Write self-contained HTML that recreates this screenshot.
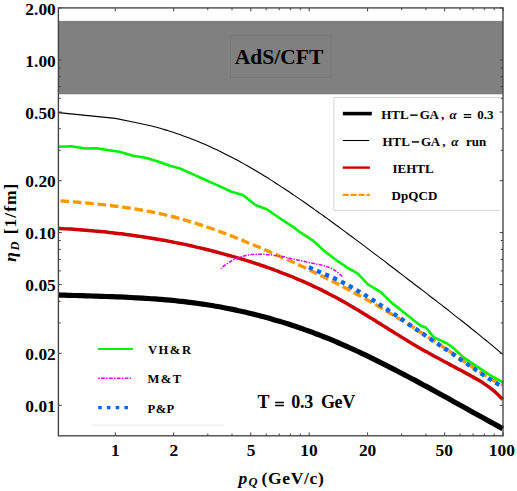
<!DOCTYPE html>
<html><head><meta charset="utf-8"><title>plot</title>
<style>
html,body{margin:0;padding:0;background:#fff;}
body{width:517px;height:491px;overflow:hidden;font-family:"Liberation Serif",serif;}
svg{display:block;}
svg text{font-family:"Liberation Serif",serif;font-weight:bold;fill:#000;}
</style></head><body>
<svg width="517" height="491" viewBox="0 0 517 491">
<rect x="0" y="0" width="517" height="491" fill="#fff"/>
<rect x="58.4" y="20.9" width="444.6" height="73.4" fill="#808080"/>
<rect x="230.5" y="35.7" width="100.6" height="41.8" fill="#808080" stroke="#767676" stroke-width="0.7"/>
<text x="234.8" y="63.8" font-size="21.5" textLength="88.5" lengthAdjust="spacing">AdS/CFT</text>
<g fill="none" stroke-linejoin="round">
<path d="M58.5,294.9 C59.5,295.0 62.5,295.1 64.5,295.1 C66.5,295.2 68.5,295.3 70.5,295.3 C72.5,295.4 74.5,295.5 76.5,295.5 C78.5,295.6 80.5,295.7 82.5,295.7 C84.5,295.8 86.5,295.8 88.5,295.9 C90.5,296.0 92.5,296.0 94.5,296.1 C96.5,296.2 98.5,296.2 100.5,296.3 C102.5,296.4 104.5,296.4 106.5,296.5 C108.5,296.6 110.5,296.6 112.5,296.7 C114.5,296.8 116.5,296.9 118.5,296.9 C120.5,297.0 122.5,297.1 124.5,297.2 C126.5,297.3 128.5,297.4 130.5,297.5 C132.6,297.6 134.6,297.7 136.6,297.8 C138.6,297.9 140.6,298.0 142.6,298.1 C144.6,298.3 146.6,298.4 148.6,298.5 C150.6,298.7 152.6,298.8 154.6,298.9 C156.6,299.1 158.6,299.2 160.6,299.4 C162.6,299.6 164.6,299.7 166.6,299.9 C168.6,300.1 170.6,300.3 172.6,300.4 C174.6,300.6 176.6,300.8 178.6,301.1 C180.6,301.3 182.6,301.5 184.6,301.7 C186.6,301.9 188.6,302.2 190.6,302.4 C192.6,302.7 194.6,302.9 196.6,303.2 C198.6,303.5 200.6,303.8 202.6,304.1 C204.6,304.4 206.6,304.7 208.6,305.0 C210.6,305.3 212.6,305.6 214.6,306.0 C216.6,306.3 218.6,306.7 220.6,307.0 C222.6,307.4 224.6,307.8 226.6,308.2 C228.6,308.6 230.6,309.0 232.6,309.4 C234.6,309.8 236.6,310.2 238.6,310.7 C240.6,311.1 242.6,311.5 244.6,312.0 C246.6,312.5 248.6,312.9 250.6,313.4 C252.6,313.9 254.6,314.4 256.6,314.9 C258.6,315.4 260.6,316.0 262.6,316.5 C264.6,317.0 266.6,317.6 268.6,318.1 C270.6,318.7 272.6,319.3 274.6,319.9 C276.6,320.4 278.6,321.0 280.6,321.6 C282.7,322.3 284.7,322.9 286.7,323.5 C288.7,324.1 290.7,324.8 292.7,325.5 C294.7,326.1 296.7,326.8 298.7,327.5 C300.7,328.2 302.7,328.9 304.7,329.6 C306.7,330.3 308.7,331.0 310.7,331.7 C312.7,332.5 314.7,333.2 316.7,334.0 C318.7,334.8 320.7,335.5 322.7,336.3 C324.7,337.1 326.7,337.9 328.7,338.7 C330.7,339.6 332.7,340.4 334.7,341.2 C336.7,342.1 338.7,342.9 340.7,343.8 C342.7,344.7 344.7,345.5 346.7,346.4 C348.7,347.3 350.7,348.2 352.7,349.1 C354.7,350.0 356.7,351.0 358.7,351.9 C360.7,352.8 362.7,353.8 364.7,354.7 C366.7,355.7 368.7,356.7 370.7,357.6 C372.7,358.6 374.7,359.6 376.7,360.6 C378.7,361.6 380.7,362.6 382.7,363.6 C384.7,364.6 386.7,365.6 388.7,366.6 C390.7,367.6 392.7,368.7 394.7,369.7 C396.7,370.7 398.7,371.8 400.7,372.8 C402.7,373.9 404.7,374.9 406.7,376.0 C408.7,377.0 410.7,378.1 412.7,379.2 C414.7,380.2 416.7,381.3 418.7,382.4 C420.7,383.5 422.7,384.6 424.7,385.7 C426.7,386.7 428.8,387.8 430.8,388.9 C432.8,390.0 434.8,391.1 436.8,392.2 C438.8,393.3 440.8,394.4 442.8,395.5 C444.8,396.6 446.8,397.7 448.8,398.8 C450.8,400.0 452.8,401.1 454.8,402.2 C456.8,403.3 458.8,404.4 460.8,405.5 C462.8,406.6 464.8,407.7 466.8,408.8 C468.8,410.0 470.8,411.1 472.8,412.2 C474.8,413.3 476.8,414.4 478.8,415.5 C480.8,416.6 482.8,417.7 484.8,418.8 C486.8,419.9 488.8,421.0 490.8,422.1 C492.8,423.2 494.8,424.3 496.8,425.4 C498.8,426.5 501.8,428.1 502.8,428.7" stroke="#000" stroke-width="5.2"/>
<path d="M58.5,112.6 L115.3,118.4 L133,122.0 L150.5,125.8 C151.5,126.0 154.5,126.8 156.5,127.3 C158.5,127.9 160.5,128.4 162.4,129.0 C164.4,129.6 166.4,130.2 168.4,130.8 C170.4,131.4 172.4,132.1 174.4,132.7 C176.4,133.4 178.4,134.1 180.4,134.8 C182.3,135.5 184.3,136.2 186.3,136.9 C188.3,137.7 190.3,138.4 192.3,139.2 C194.3,140.0 196.3,140.8 198.3,141.6 C200.3,142.4 202.3,143.3 204.2,144.1 C206.2,145.0 208.2,145.9 210.2,146.8 C212.2,147.7 214.2,148.6 216.2,149.5 C218.2,150.5 220.2,151.4 222.2,152.4 C224.1,153.4 226.1,154.4 228.1,155.4 C230.1,156.4 232.1,157.4 234.1,158.5 C236.1,159.6 238.1,160.6 240.1,161.7 C242.1,162.8 244.0,163.9 246.0,165.1 C248.0,166.2 250.0,167.3 252.0,168.5 C254.0,169.7 256.0,170.8 258.0,172.0 C260.0,173.2 262.0,174.4 264.0,175.7 C265.9,176.9 267.9,178.1 269.9,179.4 C271.9,180.6 273.9,181.9 275.9,183.2 C277.9,184.5 279.9,185.8 281.9,187.1 C283.9,188.4 285.8,189.7 287.8,191.0 C289.8,192.4 291.8,193.7 293.8,195.1 C295.8,196.4 297.8,197.8 299.8,199.1 C301.8,200.5 303.8,201.9 305.8,203.3 C307.7,204.7 309.7,206.1 311.7,207.5 C313.7,208.9 315.7,210.3 317.7,211.7 C319.7,213.1 321.7,214.6 323.7,216.0 C325.7,217.4 327.6,218.9 329.6,220.3 C331.6,221.8 333.6,223.2 335.6,224.7 C337.6,226.1 339.6,227.6 341.6,229.1 C343.6,230.5 345.6,232.0 347.5,233.5 C349.5,235.0 351.5,236.4 353.5,237.9 C355.5,239.4 357.5,240.9 359.5,242.4 C361.5,243.9 363.5,245.4 365.5,246.9 C367.5,248.4 369.4,249.9 371.4,251.4 C373.4,252.9 375.4,254.4 377.4,255.9 C379.4,257.4 381.4,258.9 383.4,260.4 C385.4,261.9 387.4,263.5 389.3,265.0 C391.3,266.5 393.3,268.0 395.3,269.5 C397.3,271.1 399.3,272.6 401.3,274.1 C403.3,275.6 405.3,277.1 407.3,278.7 C409.3,280.2 411.2,281.7 413.2,283.2 C415.2,284.8 417.2,286.3 419.2,287.8 C421.2,289.3 423.2,290.9 425.2,292.4 C427.2,293.9 429.2,295.5 431.1,297.0 C433.1,298.5 435.1,300.1 437.1,301.6 C439.1,303.1 441.1,304.7 443.1,306.2 C445.1,307.8 447.1,309.3 449.1,310.9 C451.0,312.4 453.0,314.0 455.0,315.6 C457.0,317.1 459.0,318.7 461.0,320.3 C463.0,321.8 465.0,323.4 467.0,325.0 C469.0,326.6 471.0,328.2 472.9,329.8 C474.9,331.4 476.9,333.0 478.9,334.6 C480.9,336.2 482.9,337.9 484.9,339.5 C486.9,341.1 488.9,342.8 490.9,344.4 C492.8,346.1 494.8,347.7 496.8,349.4 C498.8,351.1 501.8,353.6 502.8,354.4" stroke="#000" stroke-width="1.1"/>
<path d="M58.5,228.4 C59.5,228.5 62.5,228.6 64.5,228.8 C66.5,228.9 68.5,229.0 70.5,229.1 C72.5,229.2 74.5,229.4 76.5,229.5 C78.5,229.6 80.5,229.8 82.5,229.9 C84.5,230.1 86.5,230.3 88.5,230.4 C90.5,230.6 92.5,230.8 94.5,231.0 C96.5,231.1 98.5,231.3 100.5,231.5 C102.5,231.7 104.5,231.9 106.5,232.1 C108.5,232.3 110.5,232.6 112.5,232.8 C114.5,233.0 116.5,233.3 118.5,233.5 C120.5,233.7 122.5,234.0 124.5,234.2 C126.5,234.5 128.5,234.8 130.5,235.0 C132.6,235.3 134.6,235.6 136.6,235.9 C138.6,236.2 140.6,236.5 142.6,236.8 C144.6,237.1 146.6,237.4 148.6,237.7 C150.6,238.0 152.6,238.4 154.6,238.7 C156.6,239.1 158.6,239.4 160.6,239.8 C162.6,240.1 164.6,240.5 166.6,240.8 C168.6,241.2 170.6,241.6 172.6,242.0 C174.6,242.4 176.6,242.8 178.6,243.2 C180.6,243.6 182.6,244.0 184.6,244.4 C186.6,244.9 188.6,245.3 190.6,245.7 C192.6,246.2 194.6,246.6 196.6,247.1 C198.6,247.5 200.6,248.0 202.6,248.5 C204.6,249.0 206.6,249.5 208.6,250.0 C210.6,250.5 212.6,251.0 214.6,251.5 C216.6,252.0 218.6,252.5 220.6,253.1 C222.6,253.6 224.6,254.1 226.6,254.7 C228.6,255.2 230.6,255.8 232.6,256.4 C234.6,256.9 236.6,257.5 238.6,258.1 C240.6,258.7 242.6,259.3 244.6,259.9 C246.6,260.5 248.6,261.2 250.6,261.8 C252.6,262.4 254.6,263.1 256.6,263.8 C258.6,264.4 260.6,265.1 262.6,265.8 C264.6,266.4 266.6,267.1 268.6,267.9 C270.6,268.6 272.6,269.3 274.6,270.0 C276.6,270.8 278.6,271.5 280.6,272.3 C282.7,273.0 284.7,273.8 286.7,274.6 C288.7,275.4 290.7,276.2 292.7,277.0 C294.7,277.9 296.7,278.7 298.7,279.6 C300.7,280.4 302.7,281.3 304.7,282.2 C306.7,283.1 308.7,284.0 310.7,284.9 C312.7,285.8 314.7,286.8 316.7,287.7 C318.7,288.7 320.7,289.6 322.7,290.6 C324.7,291.6 326.7,292.7 328.7,293.7 C330.7,294.7 332.7,295.8 334.7,296.8 C336.7,297.9 338.7,299.0 340.7,300.1 C342.7,301.2 344.7,302.4 346.7,303.5 C348.7,304.6 350.7,305.8 352.7,307.0 C354.7,308.2 356.7,309.4 358.7,310.6 C360.7,311.8 362.7,313.0 364.7,314.2 C366.7,315.5 368.7,316.7 370.7,317.9 C372.7,319.2 374.7,320.4 376.7,321.7 C378.7,322.9 380.7,324.2 382.7,325.4 C384.7,326.7 386.7,327.9 388.7,329.2 C390.7,330.4 392.7,331.7 394.7,332.9 C396.7,334.2 398.7,335.4 400.7,336.6 C402.7,337.9 404.7,339.1 406.7,340.3 C408.7,341.5 410.7,342.7 412.7,343.9 C414.7,345.1 416.7,346.3 418.7,347.4 C420.7,348.6 422.7,349.7 424.7,350.9 C426.7,352.0 428.8,353.1 430.8,354.2 C432.8,355.3 434.8,356.4 436.8,357.5 C438.8,358.5 440.8,359.6 442.8,360.7 C444.8,361.8 446.8,362.8 448.8,363.9 C450.8,365.0 452.8,366.0 454.8,367.1 C456.8,368.2 458.8,369.2 460.8,370.3 C462.8,371.4 464.8,372.5 466.8,373.6 C468.8,374.7 470.8,375.8 472.8,376.9 C474.8,378.0 476.8,379.1 478.8,380.3 C480.8,381.5 482.8,382.7 484.8,384.1 C486.8,385.4 488.8,386.9 490.8,388.4 C492.8,390.0 494.8,391.7 496.8,393.5 C498.8,395.4 501.8,398.6 502.8,399.6" stroke="#cc0000" stroke-width="3.5"/>
<path d="M60.5,200.9 C61.5,201.0 64.5,201.2 66.5,201.4 C68.5,201.5 70.5,201.7 72.5,201.8 C74.4,202.0 76.4,202.2 78.4,202.3 C80.4,202.5 82.4,202.7 84.4,202.8 C86.4,203.0 88.4,203.2 90.4,203.4 C92.4,203.6 94.4,203.8 96.4,204.0 C98.3,204.2 100.3,204.4 102.3,204.6 C104.3,204.8 106.3,205.0 108.3,205.3 C110.3,205.5 112.3,205.7 114.3,206.0 C116.3,206.2 118.3,206.5 120.3,206.7 C122.2,207.0 124.2,207.3 126.2,207.6 C128.2,207.9 130.2,208.2 132.2,208.5 C134.2,208.8 136.2,209.1 138.2,209.5 C140.2,209.8 142.2,210.1 144.2,210.5 C146.2,210.9 148.1,211.2 150.1,211.6 C152.1,212.0 154.1,212.4 156.1,212.8 C158.1,213.2 160.1,213.7 162.1,214.1 C164.1,214.6 166.1,215.0 168.1,215.5 C170.1,216.0 172.0,216.5 174.0,217.0 C176.0,217.5 178.0,218.0 180.0,218.6 C182.0,219.1 184.0,219.7 186.0,220.3 C188.0,220.9 190.0,221.5 192.0,222.1 C194.0,222.7 195.9,223.3 197.9,224.0 C199.9,224.6 201.9,225.3 203.9,225.9 C205.9,226.6 207.9,227.3 209.9,228.0 C211.9,228.7 213.9,229.4 215.9,230.1 C217.9,230.9 219.9,231.6 221.8,232.3 C223.8,233.1 225.8,233.8 227.8,234.6 C229.8,235.4 231.8,236.2 233.8,236.9 C235.8,237.7 237.8,238.5 239.8,239.3 C241.8,240.1 243.8,240.9 245.7,241.7 C247.7,242.6 249.7,243.4 251.7,244.2 C253.7,245.0 255.7,245.9 257.7,246.7 C259.7,247.5 261.7,248.4 263.7,249.2 C265.7,250.1 267.7,251.0 269.6,251.8 C271.6,252.7 273.6,253.6 275.6,254.4 C277.6,255.3 279.6,256.2 281.6,257.1 C283.6,258.0 285.6,258.9 287.6,259.8 C289.6,260.7 291.6,261.6 293.6,262.5 C295.5,263.4 297.5,264.3 299.5,265.3 C301.5,266.2 303.5,267.1 305.5,268.1 C307.5,269.0 309.5,270.0 311.5,270.9 C313.5,271.9 315.5,272.9 317.5,273.9 C319.4,274.8 321.4,275.8 323.4,276.8 C325.4,277.8 327.4,278.8 329.4,279.8 C331.4,280.8 333.4,281.8 335.4,282.8 C337.4,283.9 339.4,284.9 341.4,285.9 C343.3,287.0 345.3,288.0 347.3,289.1 C349.3,290.1 351.3,291.2 353.3,292.3 C355.3,293.4 357.3,294.4 359.3,295.5 C361.3,296.6 363.3,297.7 365.3,298.8 C367.3,300.0 369.2,301.1 371.2,302.2 C373.2,303.3 375.2,304.5 377.2,305.6 C379.2,306.8 381.2,307.9 383.2,309.1 C385.2,310.3 387.2,311.5 389.2,312.7 C391.2,313.8 393.1,315.1 395.1,316.3 C397.1,317.5 399.1,318.7 401.1,319.9 C403.1,321.1 405.1,322.4 407.1,323.6 C409.1,324.9 411.1,326.1 413.1,327.4 C415.1,328.7 417.0,329.9 419.0,331.2 C421.0,332.5 423.0,333.8 425.0,335.1 C427.0,336.4 429.0,337.7 431.0,339.0 C433.0,340.3 435.0,341.6 437.0,342.9 C439.0,344.2 441.0,345.6 442.9,346.9 C444.9,348.2 446.9,349.6 448.9,350.9 C450.9,352.3 452.9,353.6 454.9,355.0 C456.9,356.3 458.9,357.7 460.9,359.1 C462.9,360.4 464.9,361.8 466.8,363.2 C468.8,364.5 470.8,365.9 472.8,367.2 C474.8,368.6 476.8,369.9 478.8,371.2 C480.8,372.5 482.8,373.8 484.8,375.1 C486.8,376.3 488.8,377.6 490.7,378.7 C492.7,379.9 494.7,381.0 496.7,382.1 C498.7,383.2 501.7,384.7 502.7,385.2" stroke="#ff9800" stroke-width="3.4" stroke-dasharray="8.6 3.8"/>
<path d="M220.7,268.7 C221.7,267.9 224.7,265.3 226.8,263.9 C228.8,262.5 230.8,261.2 232.8,260.2 C234.9,259.1 236.9,258.2 238.9,257.5 C240.9,256.7 243.0,256.1 245.0,255.7 C247.0,255.2 249.0,254.8 251.1,254.6 C253.1,254.3 255.1,254.2 257.1,254.2 C259.2,254.1 261.2,254.1 263.2,254.2 C265.2,254.3 267.3,254.5 269.3,254.7 C271.3,254.9 273.4,255.1 275.4,255.4 C277.4,255.7 279.4,256.1 281.4,256.5 C283.5,256.8 285.5,257.2 287.5,257.7 C289.5,258.1 291.6,258.5 293.6,259.0 C295.6,259.5 297.7,259.9 299.7,260.4 C301.7,260.9 303.7,261.3 305.8,261.8 C307.8,262.2 309.8,262.7 311.8,263.1 C313.8,263.5 315.9,263.9 317.9,264.3 C319.9,264.8 322.0,265.1 324.0,265.7 C326.0,266.3 328.0,266.9 330.1,267.8 C332.1,268.8 334.1,269.8 336.1,271.2 C338.1,272.7 341.2,275.6 342.2,276.4" stroke="#d800ff" stroke-width="1.5" stroke-dasharray="1.3 1.3 3.8 1.3"/>
<path d="M308.9,267.2 C309.9,267.6 312.9,269.0 314.9,269.8 C316.9,270.7 318.9,271.6 320.9,272.4 C322.9,273.3 324.9,274.2 327.0,275.1 C329.0,275.9 331.0,276.8 333.0,277.8 C335.0,278.7 337.0,279.6 339.0,280.6 C341.0,281.6 343.0,282.6 345.0,283.6 C347.0,284.7 349.0,285.8 351.0,286.9 C353.0,288.0 355.0,289.1 357.0,290.3 C359.1,291.5 361.1,292.7 363.1,293.9 C365.1,295.1 367.1,296.4 369.1,297.6 C371.1,298.9 373.1,300.2 375.1,301.5 C377.1,302.8 379.1,304.1 381.1,305.4 C383.1,306.7 385.1,308.1 387.1,309.4 C389.1,310.8 391.2,312.1 393.2,313.5 C395.2,314.8 397.2,316.2 399.2,317.6 C401.2,318.9 403.2,320.3 405.2,321.7 C407.2,323.1 409.2,324.5 411.2,325.8 C413.2,327.2 415.2,328.6 417.2,329.9 C419.2,331.3 421.2,332.7 423.3,334.0 C425.3,335.4 427.3,336.8 429.3,338.1 C431.3,339.5 433.3,340.8 435.3,342.2 C437.3,343.5 439.3,344.9 441.3,346.3 C443.3,347.6 445.3,349.0 447.3,350.3 C449.3,351.7 451.3,353.1 453.4,354.4 C455.4,355.8 457.4,357.2 459.4,358.6 C461.4,359.9 463.4,361.3 465.4,362.7 C467.4,364.1 469.4,365.5 471.4,366.9 C473.4,368.3 475.4,369.7 477.4,371.0 C479.4,372.4 481.4,373.7 483.4,375.1 C485.5,376.4 487.5,377.7 489.5,379.0 C491.5,380.2 493.5,381.5 495.5,382.7 C497.5,383.9 500.5,385.6 501.5,386.2" stroke="#0066ff" stroke-width="4.3" stroke-dasharray="4.3 4.5"/>
<path d="M58.5,146.8 L71.3,146.3 L85.2,148.5 L96.5,148.3 L109.0,150.3 L120.4,152.0 L133.0,155.8 L145.5,157.8 L158.0,161.6 L170.7,166.1 L180.0,168.5 L192.6,174.1 L205.1,179.8 L217.7,185.4 L231.5,191.7 L242.9,194.9 L255.4,205.0 L266.7,209.3 L280.6,218.8 L293.1,226.9 L300.0,232.2 L312.6,240.3 L325.1,251.6 L337.7,261.2 L347.8,268.0 L357.8,273.7 L367.9,284.3 L380.5,291.8 L390.5,301.9 L399.6,308.9 L412.1,319.0 L420.0,325.2 L426.1,327.8 L433.9,337.4 L446.1,343.0 L452.2,347.0 L463.5,357.4 L475.7,365.6 L489.6,374.8 L502.8,382.3" stroke="#00f200" stroke-width="2.6"/>
</g>
<rect x="333.9" y="97.6" width="168" height="112.8" fill="#fff"/><path d="M500.3,97.5H333.9V210.4H500.3" fill="none" stroke="#d6d6d6" stroke-width="1"/>
<g fill="none">
<path d="M342.8,113.6H371.8" stroke="#000" stroke-width="3.6"/>
<path d="M342.8,140.5H369.2" stroke="#000" stroke-width="1.1"/>
<path d="M342.7,167.6H369.9" stroke="#cc0000" stroke-width="2.4"/>
<path d="M342.7,194.9H369.9" stroke="#ff9800" stroke-width="2.2" stroke-dasharray="6.1 1.8"/>
</g>
<text x="381.3" y="118.7" font-size="13" textLength="27.3" lengthAdjust="spacing">HTL</text>
<rect x="410.2" y="114.4" width="7.4" height="1.45" fill="#000"/>
<text x="419.8" y="118.7" font-size="13" textLength="19.2" lengthAdjust="spacing">GA</text>
<text x="441.1" y="118.7" font-size="13">,</text>
<text x="449.6" y="118.7" font-size="13" font-style="italic">α</text>
<path d="M463.8,114.6H471.3M463.8,117.3H471.3" stroke="#000" stroke-width="1.25" fill="none"/>
<text x="477.3" y="118.7" font-size="13" textLength="16.2" lengthAdjust="spacing">0.3</text>
<text x="382.5" y="145.6" font-size="13" textLength="27.3" lengthAdjust="spacing">HTL</text>
<rect x="411.8" y="141.2" width="7.3" height="1.45" fill="#000"/>
<text x="421" y="145.6" font-size="13" textLength="19.2" lengthAdjust="spacing">GA</text>
<text x="442.3" y="145.6" font-size="13">,</text>
<text x="451.3" y="145.6" font-size="13" font-style="italic">α</text>
<text x="466" y="145.6" font-size="13" textLength="20.2" lengthAdjust="spacing">run</text>
<text x="392.4" y="172.6" font-size="13" textLength="41.3" lengthAdjust="spacing">IEHTL</text>
<text x="391.4" y="199.6" font-size="13" textLength="45.9" lengthAdjust="spacing">DpQCD</text>
<path d="M90.8,425.2H224" stroke="#ececec" stroke-width="1" fill="none"/>
<g fill="none">
<path d="M98,349H133" stroke="#00f200" stroke-width="2.2"/>
<path d="M98.2,378.2H131" stroke="#d800ff" stroke-width="1.6" stroke-dasharray="1.5 1.4 3.6 1.4"/>
<path d="M98.2,407.6H130" stroke="#0066ff" stroke-width="3.4" stroke-dasharray="3.5 5.25"/>
</g>
<text x="147.9" y="353.8" font-size="12.6" textLength="43.1" lengthAdjust="spacing">VH&amp;R</text>
<text x="147.6" y="383.3" font-size="12.6" textLength="33.5" lengthAdjust="spacing">M&amp;T</text>
<text x="147.6" y="413" font-size="12.6" textLength="26.7" lengthAdjust="spacing">P&amp;P</text>
<text x="257.4" y="407.7" font-size="18">T</text>
<path d="M275.1,402.5H284M275.1,405.5H284" stroke="#000" stroke-width="1.7" fill="none"/>
<text x="291.2" y="407.7" font-size="18" textLength="22" lengthAdjust="spacing">0.3</text>
<text x="320.9" y="407.7" font-size="18" textLength="34.3" lengthAdjust="spacing">GeV</text>
<rect x="58.4" y="7.9" width="444.6" height="427.90000000000003" fill="none" stroke="#424242" stroke-width="1.35"/>
<path d="M58.4,8.0h3.3 M503.0,8.0h-3.3 M58.4,60.0h3.3 M503.0,60.0h-3.3 M58.4,112.0h3.3 M503.0,112.0h-3.3 M58.4,180.7h3.3 M503.0,180.7h-3.3 M58.4,232.6h3.3 M503.0,232.6h-3.3 M58.4,284.6h3.3 M503.0,284.6h-3.3 M58.4,353.3h3.3 M503.0,353.3h-3.3 M58.4,405.3h3.3 M503.0,405.3h-3.3 M58.4,67.9h2.3 M503.0,67.9h-2.3 M58.4,76.7h2.3 M503.0,76.7h-2.3 M58.4,86.7h2.3 M503.0,86.7h-2.3 M58.4,98.3h2.3 M503.0,98.3h-2.3 M58.4,128.7h2.3 M503.0,128.7h-2.3 M58.4,150.3h2.3 M503.0,150.3h-2.3 M58.4,240.5h2.3 M503.0,240.5h-2.3 M58.4,249.4h2.3 M503.0,249.4h-2.3 M58.4,259.4h2.3 M503.0,259.4h-2.3 M58.4,270.9h2.3 M503.0,270.9h-2.3 M58.4,301.3h2.3 M503.0,301.3h-2.3 M58.4,322.9h2.3 M503.0,322.9h-2.3 M115.3,435.8v-3.4 M115.3,7.9v3.4 M173.7,435.8v-3.4 M173.7,7.9v3.4 M250.8,435.8v-3.4 M250.8,7.9v3.4 M309.2,435.8v-3.4 M309.2,7.9v3.4 M367.6,435.8v-3.4 M367.6,7.9v3.4 M444.7,435.8v-3.4 M444.7,7.9v3.4 M503.1,435.8v-3.4 M503.1,7.9v3.4 M207.8,435.8v-2.3 M207.8,7.9v2.3 M232.0,435.8v-2.3 M232.0,7.9v2.3 M266.2,435.8v-2.3 M266.2,7.9v2.3 M279.2,435.8v-2.3 M279.2,7.9v2.3 M290.4,435.8v-2.3 M290.4,7.9v2.3 M300.3,435.8v-2.3 M300.3,7.9v2.3 M401.7,435.8v-2.3 M401.7,7.9v2.3 M425.9,435.8v-2.3 M425.9,7.9v2.3 M460.1,435.8v-2.3 M460.1,7.9v2.3 M473.1,435.8v-2.3 M473.1,7.9v2.3 M484.3,435.8v-2.3 M484.3,7.9v2.3 M494.2,435.8v-2.3 M494.2,7.9v2.3" stroke="#424242" stroke-width="1" fill="none"/>
<g font-size="17.4" text-anchor="end">
<text x="55.8" y="14.6">2.00</text>
<text x="55.8" y="66.6">1.00</text>
<text x="55.8" y="118.6">0.50</text>
<text x="55.8" y="187.3">0.20</text>
<text x="55.8" y="239.2">0.10</text>
<text x="55.8" y="291.2">0.05</text>
<text x="55.8" y="359.9">0.02</text>
<text x="55.8" y="411.9">0.01</text>
</g>
<g font-size="17.4" text-anchor="middle">
<text x="115.4" y="455.8">1</text>
<text x="173.8" y="455.8">2</text>
<text x="251.2" y="455.8">5</text>
<text x="308.9" y="455.8">10</text>
<text x="367.6" y="455.8">20</text>
<text x="444.3" y="455.8">50</text>
<text x="501.9" y="455.8">100</text>
</g>
<text x="238.6" y="483.7" font-size="17.5" font-style="italic">p</text>
<text x="248.6" y="486.2" font-size="12.5" font-style="italic">Q</text>
<text x="261.4" y="483.7" font-size="17.5" textLength="62.5" lengthAdjust="spacing">(GeV/c)</text>
<text transform="translate(16.2,261.7) rotate(-90)" x="0" y="0" font-size="17.5" font-style="italic">η</text>
<text transform="translate(19.4,250.4) rotate(-90)" x="0" y="0" font-size="12.5" font-style="italic">D</text>
<text transform="translate(16.2,234.2) rotate(-90)" x="0" y="0" font-size="17.5" textLength="50.5" lengthAdjust="spacing">[1/fm]</text>
</svg>
</body></html>
